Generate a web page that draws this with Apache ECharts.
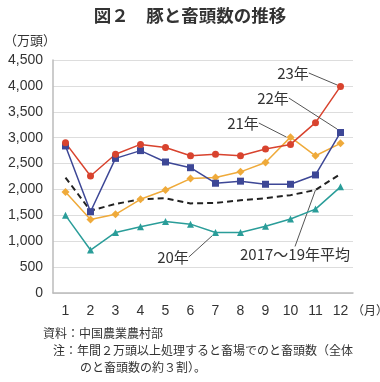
<!DOCTYPE html>
<html><head><meta charset="utf-8">
<script src="https://cdn.jsdelivr.net/npm/echarts@6/dist/echarts.min.js"></script>
<style>html,body{margin:0;padding:0;background:#fff}#c{width:380px;height:382px}</style>
</head><body><div id="c"></div>
<script>
var months = ['1','2','3','4','5','6','7','8','9','10','11','12'];
var yTicks = [0, 500, 1000, 1500, 2000, 2500, 3000, 3500, 4000, 4500];
var y2023 = [2900, 2260, 2680, 2870, 2810, 2650, 2680, 2650, 2780, 2870, 3290, 3990];
var y2022 = [2840, 1570, 2600, 2750, 2530, 2420, 2120, 2160, 2100, 2100, 2280, 3100];
var y2021 = [1950, 1420, 1520, 1810, 1990, 2210, 2230, 2340, 2520, 3010, 2650, 2890];
var y2020 = [1500, 830, 1170, 1280, 1380, 1330, 1170, 1170, 1290, 1430, 1620, 2050];
var yAvg  = [2230, 1590, 1720, 1810, 1830, 1730, 1740, 1790, 1830, 1890, 1990, 2300];
var names = ['23年', '22年', '21年', '20年', '2017〜19年平均'];

var FONT = "'Liberation Sans','Noto Sans CJK JP',sans-serif";
var JFONT = "'Noto Sans CJK JP',sans-serif";

function withLabel(arr, idx, text) {
  return arr.map(function (v, i) {
    if (i !== idx) return v;
    return { value: v, label: { show: true, formatter: text } };
  });
}
function layoutAt(x, y) {
  return function () { return { x: x, y: y, align: 'center', verticalAlign: 'middle' }; };
}
var labelStyle = { fontSize: 15, color: '#333', fontFamily: JFONT };
var guide = { show: true, lineStyle: { color: '#555', width: 1 } };

var chart = echarts.init(document.getElementById('c'), null, { renderer: 'canvas' });
chart.setOption({
  animation: false,
  backgroundColor: '#fff',
  title: {
    text: '図２　豚と畜頭数の推移',
    left: 'center', top: 2,
    textStyle: { fontSize: 17.5, fontWeight: 'bold', color: '#333', fontFamily: JFONT }
  },
  graphic: [
    { type: 'text', left: 4, top: 34, style: { text: '（万頭）', fill: '#333', font: '13px ' + JFONT } },
    { type: 'text', left: 352, top: 304, style: { text: '（月）', fill: '#333', font: '12px ' + JFONT } },
    { type: 'text', left: 43, top: 327, style: { text: '資料：中国農業農村部', fill: '#333', font: '12px ' + JFONT } },
    { type: 'text', left: 53, top: 344, style: { text: '注：年間２万頭以上処理すると畜場でのと畜頭数（全体', fill: '#333', font: '12px ' + JFONT } },
    { type: 'text', left: 80, top: 361, style: { text: 'のと畜頭数の約３割）。', fill: '#333', font: '12px ' + JFONT } }
  ],
  grid: { left: 53, right: 27, top: 60, bottom: 89, containLabel: false },
  xAxis: {
    type: 'category', data: months, boundaryGap: true,
    axisLine: { lineStyle: { color: '#bbb', width: 1.5 } },
    axisTick: { show: false },
    axisLabel: { color: '#333', fontSize: 14, margin: 11, fontFamily: FONT }
  },
  yAxis: {
    type: 'value', min: 0, max: 4500, interval: 500,
    axisLine: { show: true, lineStyle: { color: '#bbb', width: 1.5 } },
    axisTick: { show: false },
    splitLine: { lineStyle: { color: '#ddd', width: 1 } },
    axisLabel: {
      color: '#333', fontSize: 14, margin: 10, fontFamily: FONT,
      formatter: function (v) { return v.toLocaleString('en-US'); }
    }
  },
  series: [
    {
      name: names[4], type: 'line', data: withLabel(yAvg, 10, names[4]),
      symbol: 'circle', symbolSize: 0.01, showSymbol: true,
      itemStyle: { color: 'rgba(0,0,0,0)' },
      lineStyle: { color: '#222', width: 2, type: [6, 4] },
      label: labelStyle, labelLine: guide, labelLayout: layoutAt(295, 254), z: 1
    },
    {
      name: names[3], type: 'line', data: withLabel(y2020, 6, names[3]),
      symbol: 'triangle', symbolSize: 7,
      lineStyle: { color: '#2a9d99', width: 1.5 }, itemStyle: { color: '#2a9d99' },
      label: labelStyle, labelLine: guide, labelLayout: layoutAt(173, 257)
    },
    {
      name: names[2], type: 'line', data: withLabel(y2021, 9, names[2]),
      symbol: 'diamond', symbolSize: 8,
      lineStyle: { color: '#efaa3a', width: 1.5 }, itemStyle: { color: '#efaa3a' },
      label: labelStyle, labelLine: guide, labelLayout: layoutAt(243, 123)
    },
    {
      name: names[1], type: 'line', data: withLabel(y2022, 11, names[1]),
      symbol: 'rect', symbolSize: 7,
      lineStyle: { color: '#3d4796', width: 1.5 }, itemStyle: { color: '#3d4796' },
      label: labelStyle, labelLine: guide, labelLayout: layoutAt(273, 98)
    },
    {
      name: names[0], type: 'line', data: withLabel(y2023, 11, names[0]),
      symbol: 'circle', symbolSize: 7,
      lineStyle: { color: '#d8432e', width: 1.5 }, itemStyle: { color: '#d8432e' },
      label: labelStyle, labelLine: guide, labelLayout: layoutAt(293, 73)
    }
  ]
});
</script>
</body></html>
